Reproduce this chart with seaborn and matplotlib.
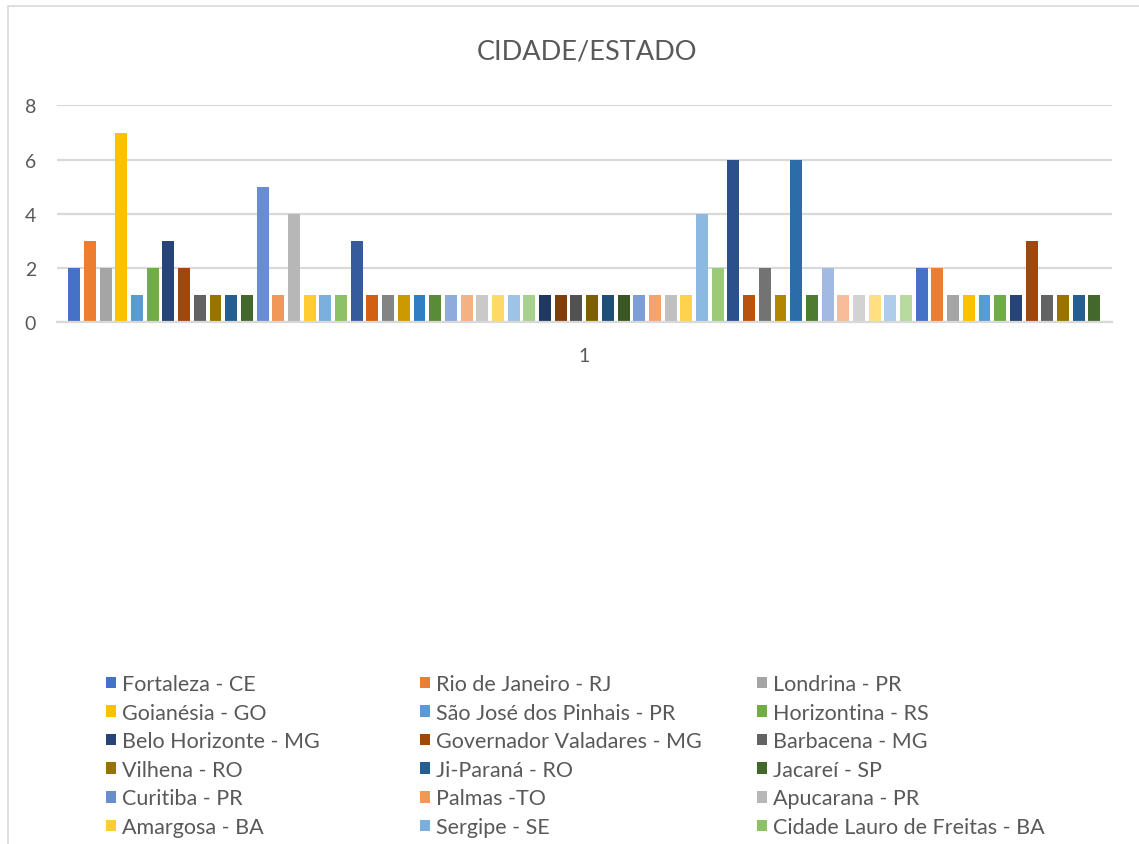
import matplotlib.pyplot as plt
import pandas as pd
import seaborn as sns
from matplotlib.patches import Patch, Rectangle


TITLE = "CIDADE/ESTADO"
CATEGORY = "1"

# only the first 18 series are visible in the (truncated) Excel legend
CITIES = [
    "Fortaleza - CE", "Rio de Janeiro - RJ", "Londrina - PR",
    "Goianésia - GO", "São José dos Pinhais - PR", "Horizontina - RS",
    "Belo Horizonte - MG", "Governador Valadares - MG", "Barbacena - MG",
    "Vilhena - RO", "Ji-Paraná - RO", "Jacareí - SP",
    "Curitiba - PR", "Palmas -TO", "Apucarana - PR",
    "Amargosa - BA", "Sergipe - SE", "Cidade Lauro de Freitas - BA",
]

VALUES = [
    2, 3, 2, 7, 1, 2, 3, 2, 1, 1, 1, 1, 5, 1, 4, 1, 1, 1, 3,
    1, 1, 1, 1, 1, 1, 1, 1, 1, 1, 1, 1, 1, 1, 1, 1, 1, 1, 1, 1, 1,
    4, 2, 6, 1, 2, 1, 6, 1, 2, 1, 1, 1, 1, 1,
    2, 2, 1, 1, 1, 1, 1, 3, 1, 1, 1, 1,
]

# Excel office palette cycle (base, darker, lighter ...)
BASE = ["#4472C4", "#ED7D31", "#A5A5A5", "#FFC000", "#5B9BD5", "#70AD47"]
DARK60 = ["#264478", "#9E480E", "#636363", "#997300", "#255E91", "#43682B"]
LIGHT80 = ["#698ED0", "#F1975A", "#B7B7B7", "#FFCD33", "#7CAFDD", "#8CC168"]
DARK80 = ["#365B9D", "#D35F12", "#848484", "#CC9900", "#327EC2", "#5A8C37"]
LIGHT60 = ["#8FAADC", "#F4B183", "#C9C9C9", "#FFD966", "#9DC3E6", "#A9D18E"]
DARK50 = ["#203864", "#843C0C", "#525252", "#7F6000", "#1F4E79", "#385723"]
LIGHT70 = ["#7C9DD6", "#F2A36F", "#C0C0C0", "#FFD24D", "#8CB9E1", "#9BCB79"]
DARK70 = ["#2C508C", "#B85310", "#737373", "#B38600", "#2C6DA9", "#4F7B30"]
LIGHT50 = ["#A2B9E2", "#F6BD98", "#D2D2D2", "#FFDF80", "#ADCDEA", "#B8DA9F"]
COLORS = (BASE + DARK60 + LIGHT80 + DARK80 + LIGHT60 + DARK50
          + LIGHT70 + DARK70 + LIGHT50 + BASE + DARK60)

TEXT = "#595959"
GRID = "#D9D9D9"

series = [f"S{i + 1}" for i in range(len(VALUES))]
df = pd.DataFrame({"categoria": [CATEGORY] * len(VALUES), "serie": series, "valor": VALUES})

sns.set_theme(style="white")
plt.rcParams["font.family"] = ["Lato", "DejaVu Sans"]

fig = plt.figure(figsize=(11.39, 8.45), dpi=100)
ax = fig.add_axes([0.050, 0.618, 0.926, 0.256])

sns.barplot(data=df, x="categoria", y="valor", hue="serie", hue_order=series,
            palette=COLORS[:len(VALUES)], saturation=1, width=0.982, gap=0.24,
            linewidth=0, legend=False, ax=ax)

ax.set_ylim(0, 8)
ax.set_yticks([0, 2, 4, 6, 8])
ax.set_xlim(-0.5, 0.5)
ax.yaxis.grid(True, color=GRID, linewidth=1.6)
ax.set_axisbelow(True)
for side in ["top", "right", "left"]:
    ax.spines[side].set_visible(False)
ax.spines["bottom"].set_color(GRID)
ax.spines["bottom"].set_linewidth(1.6)
ax.set_xlabel("")
ax.set_ylabel("")
ax.tick_params(axis="y", length=0, pad=15, labelsize=14, labelcolor=TEXT)
ax.tick_params(axis="x", which="major", length=0, pad=18, labelsize=14, labelcolor=TEXT)
ax.set_xticks([-0.5, 0.5], minor=True)
ax.tick_params(axis="x", which="minor", length=7, width=1.6, color=GRID)

fig.text(0.515, 0.938, TITLE, ha="center", va="center", fontsize=19.5, color=TEXT)

# chart area border (cropped on the right and bottom)
fig.patches.append(Rectangle((8 / 1139, -0.1), 1.2, 1 - 7 / 845 + 0.1,
                             transform=fig.transFigure, fill=False,
                             edgecolor=GRID, linewidth=1.2))

handles = [Patch(facecolor=c, edgecolor="none") for c in COLORS[:len(CITIES)]]
col_x = [106, 420, 757]
for j, x in enumerate(col_x):
    fig.legend(handles=handles[j::3], labels=CITIES[j::3], loc="upper left",
               bbox_to_anchor=(x / 1139, 1 - 675 / 845), frameon=False,
               fontsize=15.5, labelcolor=TEXT, handlelength=0.45, handleheight=0.45,
               handletextpad=0.3, labelspacing=0.4, borderpad=0, borderaxespad=0)

fig.savefig("out.png", dpi=100)
